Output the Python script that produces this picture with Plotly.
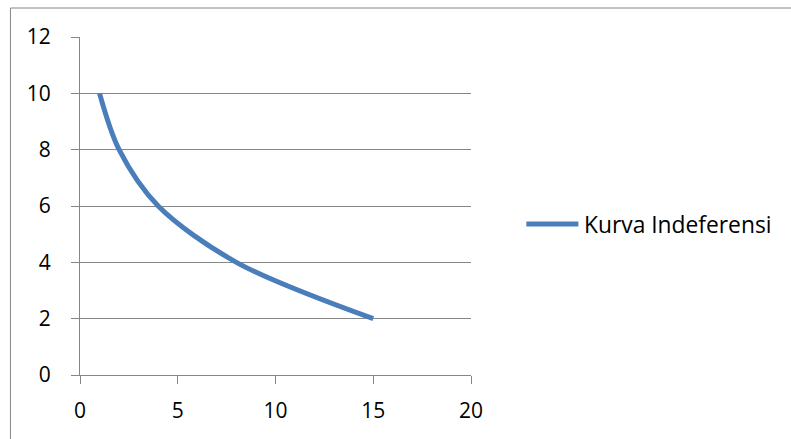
import plotly.graph_objects as go

# Indifference curve: quantity of good X vs quantity of good Y
series_name = "Kurva Indeferensi"
x_vals = [1, 2, 4, 8, 15]
y_vals = [10, 8, 6, 4, 2]

x_ticks = [0, 5, 10, 15, 20]
y_ticks = [0, 2, 4, 6, 8, 10, 12]

W, H = 791, 439
ML, MR, MT, MB = 80, 320.3, 37, 64
plot_w = W - ML - MR
plot_h = H - MT - MB

BLUE = "#4A7EBB"
GRAY = "#868686"
FONT = "Open Sans"


def px_to_paper_x(px):
    return (px - ML) / plot_w


def px_to_paper_y(py):
    return (H - MB - py) / plot_h


fig = go.Figure()
fig.add_trace(go.Scatter(
    x=x_vals, y=y_vals, mode="lines", name=series_name,
    line=dict(color=BLUE, width=5, shape="spline", smoothing=0.9),
    showlegend=False, hoverinfo="x+y",
))

# chart area border (extends past the right and bottom edges)
fig.add_shape(type="rect", xref="paper", yref="paper",
              x0=px_to_paper_x(10.5), x1=px_to_paper_x(W + 20),
              y0=px_to_paper_y(H + 20), y1=px_to_paper_y(8),
              line=dict(color=GRAY, width=1), fillcolor="rgba(0,0,0,0)",
              layer="below")

# legend entry
leg_y = px_to_paper_y(224)
fig.add_shape(type="line", xref="paper", yref="paper",
              x0=px_to_paper_x(526), x1=px_to_paper_x(578),
              y0=leg_y, y1=leg_y,
              line=dict(color=BLUE, width=5))
fig.add_annotation(xref="paper", yref="paper", x=px_to_paper_x(582), y=leg_y,
                   text=series_name, showarrow=False, xanchor="left",
                   yanchor="middle", font=dict(family=FONT, size=22.8, color="#000000"))

fig.update_layout(
    width=W, height=H,
    margin=dict(l=ML, r=MR, t=MT, b=MB, pad=0),
    paper_bgcolor="white", plot_bgcolor="white",
    font=dict(family=FONT, size=21, color="#000000"),
    showlegend=False,
)
fig.update_xaxes(
    range=[0, 20], tickvals=x_ticks, ticktext=[str(v) for v in x_ticks],
    showgrid=False, zeroline=False,
    showline=True, linecolor=GRAY, linewidth=1,
    ticks="outside", ticklen=8, tickcolor=GRAY, tickwidth=1,
    ticklabelstandoff=9,
    tickfont=dict(family=FONT, size=21, color="#000000"),
)
fig.update_yaxes(
    range=[0, 12], tickvals=y_ticks, ticktext=[str(v) for v in y_ticks],
    showgrid=True, gridcolor=GRAY, gridwidth=1, zeroline=False,
    showline=True, linecolor=GRAY, linewidth=1,
    ticks="outside", ticklen=8, tickcolor=GRAY, tickwidth=1,
    ticklabelstandoff=16,
    tickfont=dict(family=FONT, size=21, color="#000000"),
)

fig.write_html("out.html")
